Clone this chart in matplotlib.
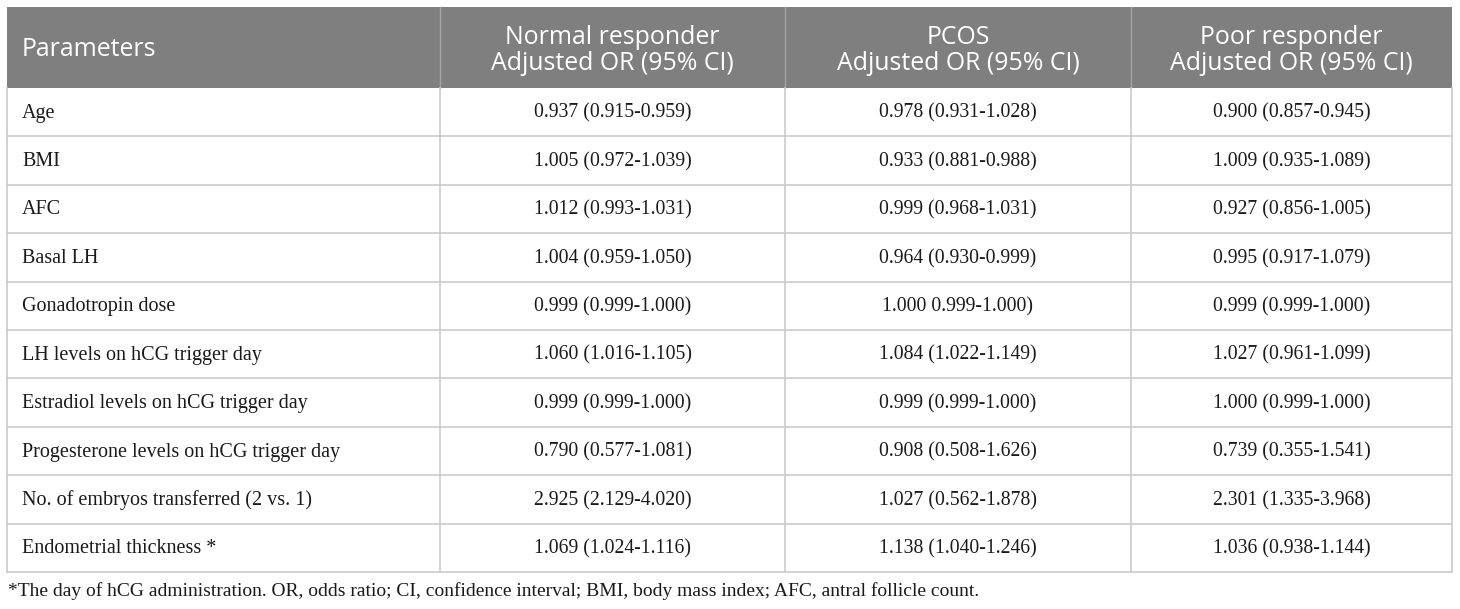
import matplotlib
matplotlib.use("Agg")
import matplotlib.pyplot as plt
from matplotlib.patches import Rectangle

# table content
header_top = ["", "Normal responder", "PCOS", "Poor responder"]
header_bottom = ["", "Adjusted OR (95% CI)", "Adjusted OR (95% CI)", "Adjusted OR (95% CI)"]
parameters = ["Age", "BMI", "AFC", "Basal LH", "Gonadotropin dose",
              "LH levels on hCG trigger day", "Estradiol levels on hCG trigger day",
              "Progesterone levels on hCG trigger day",
              "No. of embryos transferred (2 vs. 1)", "Endometrial thickness *"]
normal = ["0.937 (0.915-0.959)", "1.005 (0.972-1.039)", "1.012 (0.993-1.031)",
          "1.004 (0.959-1.050)", "0.999 (0.999-1.000)", "1.060 (1.016-1.105)",
          "0.999 (0.999-1.000)", "0.790 (0.577-1.081)", "2.925 (2.129-4.020)",
          "1.069 (1.024-1.116)"]
pcos = ["0.978 (0.931-1.028)", "0.933 (0.881-0.988)", "0.999 (0.968-1.031)",
        "0.964 (0.930-0.999)", "1.000 0.999-1.000)", "1.084 (1.022-1.149)",
        "0.999 (0.999-1.000)", "0.908 (0.508-1.626)", "1.027 (0.562-1.878)",
        "1.138 (1.040-1.246)"]
poor = ["0.900 (0.857-0.945)", "1.009 (0.935-1.089)", "0.927 (0.856-1.005)",
        "0.995 (0.917-1.079)", "0.999 (0.999-1.000)", "1.027 (0.961-1.099)",
        "1.000 (0.999-1.000)", "0.739 (0.355-1.541)", "2.301 (1.335-3.968)",
        "1.036 (0.938-1.144)"]
footnote = ("*The day of hCG administration. OR, odds ratio; CI, confidence interval; "
            "BMI, body mass index; AFC, antral follicle count.")

# layout in pixels
W, H = 1460, 609
col_edges = [7, 440, 785, 1131, 1452]
top, head_bot, bottom = 7, 88, 572
row_h = (bottom - head_bot) / len(parameters)

fig = plt.figure(figsize=(W / 100, H / 100), dpi=100)
ax = fig.add_axes([0, 0, 1, 1])
ax.set_xlim(0, W)
ax.set_ylim(H, 0)
ax.axis("off")

sans = "Open Sans"
serif = "Liberation Serif"
grid = "#cbcbcb"
ink = "#1a1a1a"

# header band
ax.add_patch(Rectangle((col_edges[0], top), col_edges[-1] - col_edges[0], head_bot - top,
                       facecolor="#7f7f7f", edgecolor="none"))
for x in col_edges[1:-1]:
    ax.plot([x, x], [top, head_bot], color="#a3a3a3", lw=1)
ax.text(col_edges[0] + 15, (top + head_bot) / 2 + 2, "Parameters", color="white",
        fontsize=17.9, family=sans, ha="left", va="center")
for j in range(1, 4):
    xc = (col_edges[j] + col_edges[j + 1]) / 2
    ax.text(xc, 37, header_top[j], color="white", fontsize=17.9, family=sans,
            ha="center", va="center")
    ax.text(xc, 64, header_bottom[j], color="white", fontsize=17.9, family=sans,
            ha="center", va="center")

# body grid
for i in range(1, len(parameters) + 1):
    y = head_bot + i * row_h
    ax.plot([col_edges[0], col_edges[-1]], [y, y], color=grid, lw=1.2)
for x in col_edges:
    ax.plot([x, x], [head_bot, bottom], color=grid, lw=1.2)

# body text
for i, p in enumerate(parameters):
    yc = head_bot + (i + 0.5) * row_h + 1
    ax.text(col_edges[0] + 15, yc, p, fontsize=14.5, family=serif, color=ink,
            ha="left", va="center")
    for j, vals in enumerate([normal, pcos, poor], start=1):
        xc = (col_edges[j] + col_edges[j + 1]) / 2
        ax.text(xc, yc, vals[i], fontsize=14.2, family=serif, color=ink,
                ha="center", va="center")

ax.text(col_edges[0] + 1, 591, footnote, fontsize=14.0, family=serif, color=ink,
        ha="left", va="center")

fig.savefig("out.png", dpi=100)
